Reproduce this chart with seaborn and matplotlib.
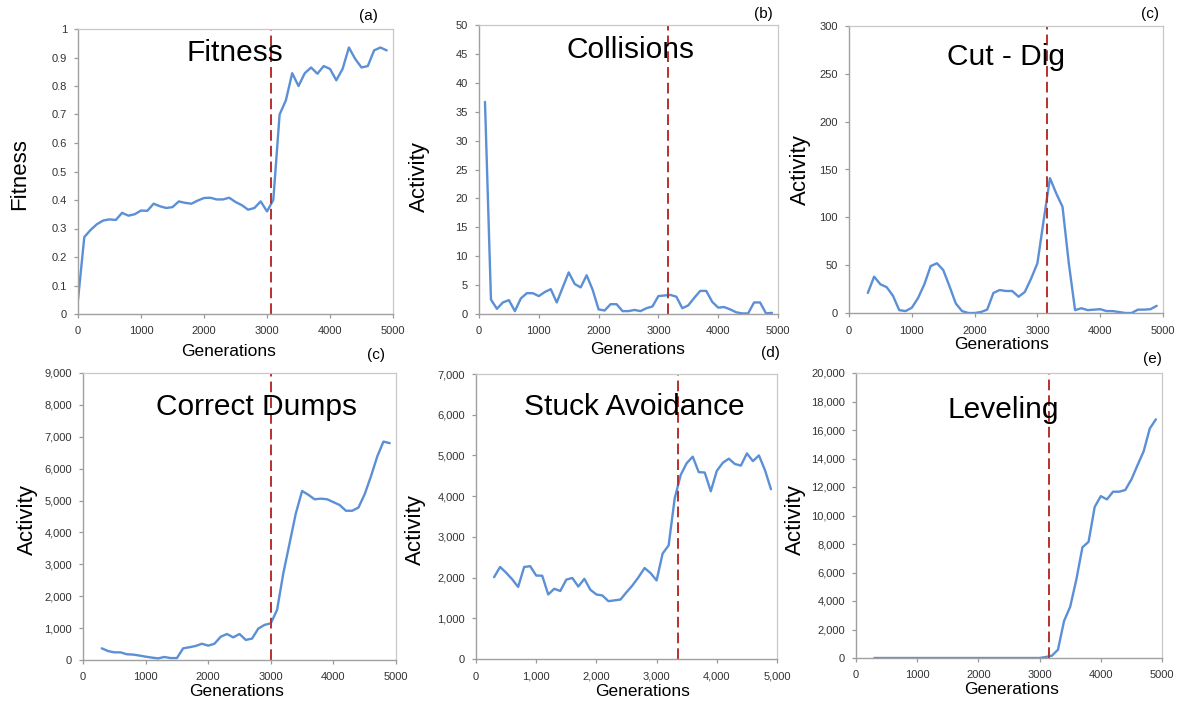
import numpy as np
import pandas as pd
import matplotlib
matplotlib.use("Agg")
import matplotlib.pyplot as plt
import matplotlib.ticker as mticker
import seaborn as sns

sns.set_theme(style="white")
plt.rcParams["font.family"] = ["Liberation Sans", "DejaVu Sans"]

# ---------------- data ----------------
gen_fitness = list(range(0, 5000, 100))
fitness = [0.05, 0.27, 0.295, 0.315, 0.328, 0.332, 0.33, 0.355, 0.345, 0.35,
           0.363, 0.362, 0.387, 0.378, 0.372, 0.375, 0.395, 0.39, 0.387, 0.398,
           0.407, 0.408, 0.402, 0.402, 0.408, 0.393, 0.382, 0.366, 0.372, 0.395,
           0.36, 0.40, 0.70, 0.75, 0.845, 0.80, 0.845, 0.865, 0.843, 0.87,
           0.86, 0.82, 0.86, 0.935, 0.895, 0.865, 0.87, 0.925, 0.935, 0.925]

gen_collisions = list(range(100, 5000, 100))
collisions = [36.7, 2.5, 0.9, 2.0, 2.4, 0.5, 2.7, 3.6, 3.6, 3.1,
              3.8, 4.3, 2.0, 4.6, 7.2, 5.2, 4.6, 6.7, 4.2, 0.8,
              0.6, 1.7, 1.7, 0.5, 0.5, 0.7, 0.5, 1.0, 1.3, 3.1,
              3.2, 3.3, 3.0, 1.0, 1.5, 2.8, 4.0, 4.0, 2.1, 1.1,
              1.2, 0.8, 0.3, 0.1, 0.1, 2.0, 2.0, 0.1, 0.2]

gen_300 = list(range(300, 5000, 100))
cut_dig = [21, 38, 30, 27, 18, 3, 2, 5.5, 15.7, 30,
           49, 52, 45, 28, 10, 2, 0, 0, 1, 3.5,
           21, 24, 23, 23, 17, 22, 36, 52, 97, 141,
           125, 111, 52, 3, 5, 3, 3.5, 4, 2, 2,
           1, 0, 0, 3.5, 3.5, 4, 7.5]

correct_dumps = [366, 280, 240, 240, 180, 170, 140, 105, 75, 50,
                 95, 60, 60, 366, 400, 440, 510, 450, 510, 730,
                 815, 710, 815, 630, 670, 985, 1100, 1150, 1570, 2720,
                 3660, 4600, 5300, 5180, 5040, 5060, 5040, 4950, 4860, 4680,
                 4680, 4780, 5200, 5760, 6380, 6850, 6800]

stuck_avoidance = [2010, 2260, 2120, 1960, 1770, 2260, 2280, 2050, 2045, 1585,
                   1725, 1670, 1950, 1990, 1780, 1970, 1700, 1585, 1560, 1420,
                   1440, 1460, 1640, 1810, 2010, 2235, 2110, 1930, 2590, 2790,
                   3940, 4520, 4810, 4970, 4590, 4580, 4120, 4620, 4820, 4920,
                   4790, 4750, 5050, 4860, 5000, 4640, 4170]

leveling = [0, 0, 0, 0, 0, 0, 0, 0, 0, 0,
            0, 0, 0, 0, 0, 0, 0, 0, 0, 0,
            0, 0, 0, 0, 0, 0, 0, 0, 70, 160,
            580, 2600, 3600, 5500, 7770, 8150, 10600, 11360, 11130, 11670,
            11670, 11790, 12530, 13530, 14500, 16100, 16750]

titles = ["Fitness", "Collisions", "Cut - Dig", "Correct Dumps", "Stuck Avoidance", "Leveling"]
panel_tags = ["(a)", "(b)", "(c)", "(c)", "(d)", "(e)"]
ylabels = ["Fitness", "Activity", "Activity", "Activity", "Activity", "Activity"]
switch_gen = [3060, 3160, 3160, 3000, 3350, 3160]

series = [(gen_fitness, fitness), (gen_collisions, collisions), (gen_300, cut_dig),
          (gen_300, correct_dumps), (gen_300, stuck_avoidance), (gen_300, leveling)]

y_ranges = [(0, 1, 0.1), (0, 50, 5), (0, 300, 50), (0, 9000, 1000), (0, 7000, 1000), (0, 20000, 2000)]

# ---------------- layout (pixels) ----------------
W, H = 1182, 704
fig = plt.figure(figsize=(W / 100, H / 100), dpi=100)

boxes = [(78, 29, 393, 314), (479, 25, 778, 314), (849, 26, 1163, 313),
         (83, 373, 396, 660), (476, 374, 777, 659), (856, 373, 1162, 658)]
title_pos = [(235, 53), (630, 50), (1006, 57), (256, 407), (634, 407), (1003, 410)]
tag_pos = [(368, 16), (763, 14), (1150, 14), (376, 355), (770, 353), (1152, 359)]
ylab_pos = [(20, 174), (419, 177), (800, 170), (27, 520), (415, 530), (795, 520)]
xlab_pos = [(229, 352), (638, 349), (1002, 345), (237, 692), (643, 692), (1012, 690)]

blue = "#5b8fd6"
red = "#b5312c"

def fx(px):
    return px / W

def fy(py):
    return 1 - py / H

def comma_fmt(v, pos):
    return f"{int(round(v)):,}"

def plain_fmt(v, pos):
    if abs(v - round(v)) < 1e-9:
        return f"{int(round(v))}"
    return f"{v:.1f}"

for i in range(6):
    l, t, r, b = boxes[i]
    ax = fig.add_axes([fx(l), fy(b), fx(r) - fx(l), fy(t) - fy(b)])
    xs, ys = series[i]
    df = pd.DataFrame({"Generations": xs, "Value": ys})
    sns.lineplot(data=df, x="Generations", y="Value", ax=ax, color=blue, linewidth=1.7)
    ymin, ymax, ystep = y_ranges[i]
    ax.axvline(switch_gen[i], color=red, linestyle=(0, (5.5, 2.6)), linewidth=1.4)
    ax.set_xlim(0, 5000)
    ax.set_ylim(ymin, ymax)
    ax.set_xticks(np.arange(0, 5001, 1000))
    ax.set_yticks(np.arange(ymin, ymax + ystep / 2, ystep))
    if i in (3, 5):
        ax.yaxis.set_major_formatter(mticker.FuncFormatter(comma_fmt))
    elif i == 4:
        ax.yaxis.set_major_formatter(mticker.FuncFormatter(comma_fmt))
        ax.xaxis.set_major_formatter(mticker.FuncFormatter(comma_fmt))
    else:
        ax.yaxis.set_major_formatter(mticker.FuncFormatter(plain_fmt))
    ax.set_xlabel("")
    ax.set_ylabel("")
    ax.tick_params(axis="both", which="major", labelsize=8, colors="#9a9a9a",
                   labelcolor="#333333", length=3, width=0.9, direction="out",
                   bottom=True, left=True)
    ax.tick_params(axis="x", pad=6)
    ax.tick_params(axis="y", pad=5)
    for side in ("top", "right"):
        ax.spines[side].set_color("#c8c8c8")
        ax.spines[side].set_linewidth(0.9)
    for side in ("left", "bottom"):
        ax.spines[side].set_color("#a0a0a0")
        ax.spines[side].set_linewidth(1.0)
    ax.set_facecolor("white")

    fig.text(fx(title_pos[i][0]), fy(title_pos[i][1]), titles[i], fontsize=21.5,
             ha="center", va="center", color="black")
    fig.text(fx(tag_pos[i][0]), fy(tag_pos[i][1]), panel_tags[i], fontsize=11,
             ha="center", va="center", color="black")
    fig.text(fx(ylab_pos[i][0]), fy(ylab_pos[i][1]), ylabels[i], fontsize=16,
             ha="center", va="center", rotation=90, color="black")
    fig.text(fx(xlab_pos[i][0]), fy(xlab_pos[i][1]), "Generations", fontsize=12.5,
             ha="center", va="center", color="black")

fig.savefig("out.png", dpi=100, facecolor="white")
